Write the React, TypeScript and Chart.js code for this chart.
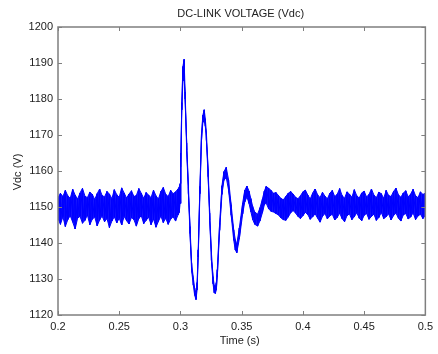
import React, { useEffect, useRef } from 'react';
import { Chart, registerables } from 'chart.js';

Chart.register(...registerables);

const TITLE = 'DC-LINK VOLTAGE (Vdc)';
const X_LABEL = 'Time (s)';
const Y_LABEL = 'Vdc (V)';

const xTickValues = [0.2, 0.25, 0.3, 0.35, 0.4, 0.45, 0.5];
const xTickLabels = ['0.2', '0.25', '0.3', '0.35', '0.4', '0.45', '0.5'];
const yTickValues = [1120, 1130, 1140, 1150, 1160, 1170, 1180, 1190, 1200];
const yTickLabels = ['1120', '1130', '1140', '1150', '1160', '1170', '1180', '1190', '1200'];

// Noisy band before the disturbance: samples every 0.002 s starting at 0.200 s
const preStart = 0.2;
const preStep = 0.002;
const preUpper = [1152.5, 1153.8, 1152.9, 1154.6, 1153.1, 1152.4, 1154.9, 1153.3, 1152.2, 1153.9, 1155.2, 1153.0, 1152.6, 1154.1, 1153.5, 1152.1, 1153.7, 1155.0, 1153.2, 1152.8, 1154.3, 1153.6, 1152.3, 1154.8, 1153.4, 1152.7, 1155.3, 1153.9, 1152.5, 1153.6, 1154.5, 1152.9, 1153.2, 1155.1, 1153.8, 1152.4, 1154.0, 1153.3, 1152.6, 1154.7, 1153.1, 1152.2, 1154.3, 1155.4, 1153.5, 1152.9, 1154.6, 1153.7, 1154.2, 1155.0];
const preLower = [1146.8, 1145.2, 1147.3, 1144.6, 1146.5, 1147.6, 1145.8, 1143.9, 1146.9, 1147.4, 1145.5, 1146.3, 1147.8, 1145.1, 1146.6, 1147.2, 1144.8, 1146.4, 1147.5, 1145.9, 1146.8, 1144.3, 1146.1, 1147.3, 1145.6, 1146.9, 1145.0, 1147.4, 1146.2, 1145.3, 1147.1, 1146.5, 1144.7, 1146.8, 1147.6, 1145.4, 1146.3, 1147.2, 1145.1, 1146.7, 1144.4, 1146.0, 1147.5, 1145.7, 1146.9, 1145.2, 1146.6, 1147.3, 1146.1, 1147.8];

// Oscillation after the disturbance
const oscTime = [0.299, 0.2997, 0.3004, 0.3011, 0.302, 0.303, 0.3038, 0.3051, 0.3065, 0.3078, 0.3091, 0.3105, 0.3116, 0.3127, 0.3136, 0.3145, 0.3159, 0.3172, 0.3183, 0.3194, 0.3203, 0.3212, 0.3226, 0.3239, 0.3253, 0.3266, 0.3276, 0.3285, 0.3293, 0.3301, 0.332, 0.3339, 0.3355, 0.3374, 0.3393, 0.3414, 0.3435, 0.3448, 0.346, 0.3481, 0.3508, 0.3525, 0.3543, 0.356, 0.3575, 0.359, 0.3607, 0.363, 0.365, 0.367, 0.3685, 0.37];
const oscUpper = [1155.5, 1156.5, 1165.0, 1179.0, 1189.0, 1191.0, 1182.0, 1167.8, 1155.7, 1144.6, 1134.4, 1130.3, 1127.5, 1126.0, 1129.0, 1138.1, 1155.7, 1170.5, 1175.5, 1177.0, 1174.5, 1170.5, 1160.4, 1148.3, 1137.2, 1130.7, 1128.2, 1127.8, 1129.0, 1132.6, 1145.5, 1155.9, 1159.8, 1161.0, 1157.5, 1150.6, 1143.6, 1140.9, 1139.6, 1144.2, 1151.1, 1154.6, 1155.8, 1154.4, 1152.3, 1150.1, 1148.6, 1148.0, 1149.8, 1152.3, 1154.4, 1155.7];
const oscLower = [1148.5, 1151.0, 1161.0, 1177.0, 1185.0, 1186.0, 1180.0, 1165.8, 1153.7, 1142.6, 1132.4, 1128.3, 1125.5, 1124.3, 1127.0, 1136.1, 1153.7, 1168.5, 1173.5, 1174.0, 1172.5, 1168.5, 1158.4, 1146.3, 1135.2, 1128.7, 1126.2, 1126.0, 1127.0, 1130.6, 1143.5, 1153.5, 1157.4, 1158.2, 1154.7, 1147.8, 1140.8, 1138.1, 1137.3, 1141.2, 1148.1, 1151.4, 1152.8, 1151.0, 1148.7, 1146.5, 1145.2, 1144.7, 1146.2, 1148.5, 1150.6, 1151.1];

// Noisy band after the oscillation: samples every 0.002 s starting at 0.372 s
const postStart = 0.372;
const postStep = 0.002;
const postUpper = [1155.2, 1154.6, 1153.8, 1154.0, 1153.2, 1152.4, 1152.0, 1152.9, 1153.8, 1154.3, 1153.6, 1152.7, 1152.3, 1153.1, 1154.2, 1154.7, 1153.3, 1152.2, 1153.9, 1155.0, 1153.4, 1152.6, 1154.1, 1153.0, 1152.3, 1153.8, 1154.6, 1152.9, 1153.5, 1155.1, 1153.2, 1152.4, 1154.2, 1153.6, 1152.7, 1154.8, 1153.1, 1152.5, 1153.9, 1154.4, 1152.8, 1153.5, 1155.0, 1153.3, 1152.6, 1154.1, 1153.7, 1152.4, 1154.6, 1153.2, 1152.9, 1154.3, 1155.2, 1153.4, 1152.7, 1153.9, 1154.5, 1152.8, 1153.6, 1154.9, 1153.1, 1152.6, 1154.2, 1153.5, 1153.8];
const postLower = [1149.5, 1148.8, 1148.6, 1148.2, 1147.8, 1147.0, 1146.5, 1146.3, 1147.2, 1148.4, 1149.0, 1148.3, 1147.4, 1146.8, 1147.6, 1148.5, 1147.9, 1146.6, 1147.3, 1148.1, 1146.9, 1145.8, 1147.4, 1148.2, 1146.7, 1147.5, 1148.0, 1146.4, 1147.1, 1148.3, 1146.8, 1145.9, 1147.6, 1148.1, 1146.5, 1147.3, 1148.4, 1146.9, 1146.2, 1147.7, 1148.2, 1146.6, 1147.4, 1148.0, 1146.3, 1147.1, 1148.5, 1146.8, 1147.3, 1148.1, 1146.4, 1147.6, 1148.3, 1146.9, 1146.1, 1147.8, 1148.2, 1146.7, 1147.2, 1148.4, 1146.5, 1147.5, 1148.0, 1146.8, 1147.6];

type P = { x: number; y: number };

function collect(): { t: number; u: number; l: number }[] {
  const rows: { t: number; u: number; l: number }[] = [];
  preUpper.forEach((u, i) => rows.push({ t: preStart + i * preStep, u, l: preLower[i] }));
  oscTime.forEach((t, i) => rows.push({ t, u: oscUpper[i], l: oscLower[i] }));
  postUpper.forEach((u, i) => rows.push({ t: postStart + i * postStep, u, l: postLower[i] }));
  return rows;
}

function zigzag(): P[] {
  const pts: P[] = [];
  collect().forEach((r) => {
    pts.push({ x: r.t, y: r.u });
    pts.push({ x: r.t, y: r.l });
  });
  return pts;
}

const FONT = '11px "Liberation Sans", Arial, Helvetica, sans-serif';
const TEXT_COLOR = '#222222';
const FRAME_COLOR = '#7f7f7f';
const LINE_COLOR = '#0000ff';

const framePlugin = {
  id: 'matlabFrame',
  afterDraw(chart: any) {
    const { ctx, chartArea: a, scales } = chart;
    ctx.save();
    ctx.strokeStyle = FRAME_COLOR;
    ctx.lineWidth = 1.5;
    ctx.strokeRect(a.left, a.top, a.right - a.left, a.bottom - a.top);
    ctx.lineWidth = 1;
    ctx.beginPath();
    xTickValues.forEach((v) => {
      const px = Math.round(scales.x.getPixelForValue(v)) + 0.5;
      ctx.moveTo(px, a.bottom);
      ctx.lineTo(px, a.bottom - 4);
      ctx.moveTo(px, a.top);
      ctx.lineTo(px, a.top + 4);
    });
    yTickValues.forEach((v) => {
      const py = Math.round(scales.y.getPixelForValue(v)) + 0.5;
      ctx.moveTo(a.left, py);
      ctx.lineTo(a.left + 4, py);
      ctx.moveTo(a.right, py);
      ctx.lineTo(a.right - 4, py);
    });
    ctx.stroke();

    ctx.fillStyle = TEXT_COLOR;
    ctx.font = FONT;
    ctx.textAlign = 'center';
    ctx.textBaseline = 'middle';
    const cx = (a.left + a.right) / 2;
    ctx.fillText(TITLE, cx - 1, 14);
    ctx.fillText(X_LABEL, cx - 2, 341);
    ctx.translate(17.5, (a.top + a.bottom) / 2 + 1);
    ctx.rotate(-Math.PI / 2);
    ctx.fillText(Y_LABEL, 0, 0);
    ctx.restore();
  },
};

export default function App() {
  const canvasRef = useRef<HTMLCanvasElement | null>(null);

  useEffect(() => {
    if (!canvasRef.current) return;
    const rows = collect();
    const tickFont = { family: '"Liberation Sans", Arial, sans-serif', size: 11 };
    const chart = new Chart(canvasRef.current, {
      type: 'line',
      data: {
        datasets: [
          {
            data: rows.map((r) => ({ x: r.t, y: r.u })),
            borderColor: LINE_COLOR,
            borderWidth: 1,
            pointRadius: 0,
            tension: 0,
            fill: false,
          },
          {
            data: rows.map((r) => ({ x: r.t, y: r.l })),
            borderColor: LINE_COLOR,
            borderWidth: 1,
            backgroundColor: 'rgba(0,0,255,0.92)',
            pointRadius: 0,
            tension: 0,
            fill: '-1',
          },
          {
            data: zigzag(),
            borderColor: LINE_COLOR,
            borderWidth: 1,
            pointRadius: 0,
            tension: 0,
            fill: false,
          },
        ],
      },
      options: {
        animation: false,
        responsive: false,
        devicePixelRatio: 1,
        layout: { padding: { left: 0, right: 8, top: 27, bottom: 0 } },
        plugins: {
          legend: { display: false },
          title: { display: false },
          tooltip: { enabled: false },
          filler: { propagate: false },
        },
        scales: {
          x: {
            type: 'linear',
            min: 0.2,
            max: 0.5,
            grid: { display: false, drawTicks: false },
            border: { display: false },
            afterFit: (s: any) => {
              s.height = 39;
            },
            afterBuildTicks: (s: any) => {
              s.ticks = xTickValues.map((v) => ({ value: v }));
            },
            ticks: {
              autoSkip: false,
              maxRotation: 0,
              padding: 5,
              color: TEXT_COLOR,
              font: tickFont,
              callback: (v: any) => {
                const i = xTickValues.findIndex((t) => Math.abs(t - Number(v)) < 1e-6);
                return i >= 0 ? xTickLabels[i] : '';
              },
            },
          },
          y: {
            type: 'linear',
            min: 1120,
            max: 1200,
            grid: { display: false, drawTicks: false },
            border: { display: false },
            afterFit: (s: any) => {
              s.width = 58;
            },
            afterBuildTicks: (s: any) => {
              s.ticks = yTickValues.map((v) => ({ value: v }));
            },
            ticks: {
              autoSkip: false,
              padding: 5,
              color: TEXT_COLOR,
              font: tickFont,
              callback: (v: any) => {
                const i = yTickValues.findIndex((t) => Math.abs(t - Number(v)) < 1e-6);
                return i >= 0 ? yTickLabels[i] : '';
              },
            },
          },
        },
      },
      plugins: [framePlugin],
    });
    return () => chart.destroy();
  }, []);

  return (
    <div style={{ position: 'absolute', left: 0, top: 0, width: 438, height: 354, background: '#ffffff' }}>
      <canvas ref={canvasRef} width={438} height={354} style={{ display: 'block' }} />
    </div>
  );
}
